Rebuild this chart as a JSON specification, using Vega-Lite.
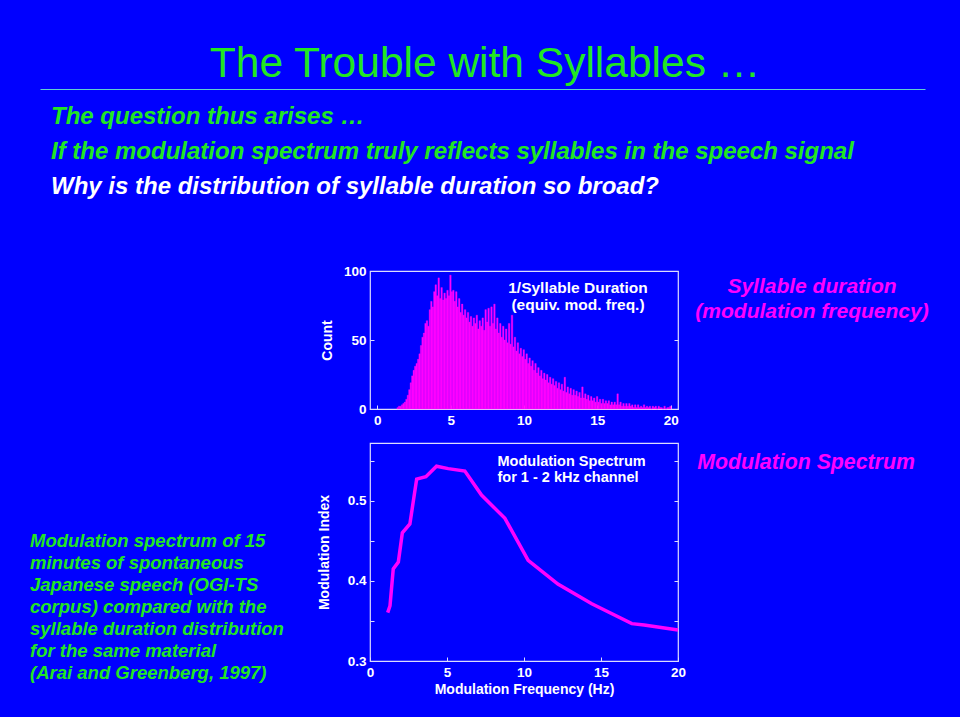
{
  "$schema": "https://vega.github.io/schema/vega-lite/v6.json",
  "background": "#0000ff",
  "padding": {"left": 30, "top": 42, "right": 30, "bottom": 0},
  "title": {"text": "The Trouble with Syllables …", "color": "#22e622", "fontSize": 42.5, "font": "Liberation Sans", "fontWeight": "normal", "anchor": "middle", "offset": 4, "dx": 5},
  "config": {
    "font": "Liberation Sans",
    "view": {"stroke": "#dcdcff", "strokeWidth": 1.2},
    "axis": {"labelColor": "white", "titleColor": "white", "labelFont": "Liberation Sans", "labelFontWeight": "bold", "labelFontSize": 13.5, "titleFont": "Liberation Sans", "titleFontWeight": "bold", "titleFontSize": 14, "grid": false, "domain": false, "tickColor": "#dcdcff", "tickSize": -4, "labelPadding": 8}
  },
  "spacing": 48,
  "vconcat": [
    {
      "width": 900,
      "height": 126,
      "view": {"stroke": null},
      "data": {"values": [
        {"line": 1, "text": "The question thus arises …", "kind": "green"},
        {"line": 2, "text": "If the modulation spectrum truly reflects syllables in the speech signal", "kind": "green"},
        {"line": 3, "text": "Why is the distribution of syllable duration so broad?", "kind": "white"}
      ]},
      "mark": {"type": "text", "align": "left", "baseline": "middle", "fontSize": 24, "fontStyle": "italic", "fontWeight": "bold", "dx": 11},
      "encoding": {
        "x": {"datum": 0, "type": "quantitative", "scale": {"domain": [0, 1], "range": [10, 895]}, "axis": {"orient": "top", "domain": true, "domainColor": "#5fd0d0", "domainWidth": 1, "ticks": false, "labels": false, "title": null}},
        "y": {"field": "line", "type": "ordinal", "scale": {"type": "point", "padding": 0.8}, "axis": null},
        "text": {"field": "text"},
        "color": {"field": "kind", "type": "nominal", "scale": {"domain": ["green", "white"], "range": ["#22e622", "#ffffff"]}, "legend": null}
      }
    },
    {
      "spacing": 0,
      "hconcat": [
        {
          "width": 286,
          "height": 446,
          "view": {"stroke": null},
          "data": {"values": [
            {"line": 1, "text": "Modulation spectrum of 15"},
            {"line": 2, "text": "minutes of spontaneous"},
            {"line": 3, "text": "Japanese speech (OGI-TS"},
            {"line": 4, "text": "corpus) compared with the"},
            {"line": 5, "text": "syllable duration distribution"},
            {"line": 6, "text": "for the same material"},
            {"line": 7, "text": "(Arai and Greenberg, 1997)"}
          ]},
          "mark": {"type": "text", "align": "left", "baseline": "middle", "fontSize": 18.5, "fontStyle": "italic", "fontWeight": "bold", "color": "#22e622"},
          "encoding": {
            "x": {"datum": 0, "type": "quantitative", "scale": {"domain": [0, 1]}, "axis": null},
            "y": {"field": "line", "type": "ordinal", "scale": {"type": "point", "range": [270, 402], "padding": 0}, "axis": null},
            "text": {"field": "text"}
          }
        },
        {
          "spacing": 14,
          "vconcat": [
            {
              "width": 308,
              "height": 138,
              "title": {"text": ["Syllable duration", "(modulation frequency)"], "color": "#ff00ff", "fontSize": 21, "fontStyle": "italic", "fontWeight": "bold", "anchor": "end", "align": "center", "dx": 134, "offset": -58, "lineHeight": 25, "frame": "group"},
              "resolve": {"axis": {"y": "independent"}},
              "layer": [
                {
                  "data": {"values": [
                    {"f":1.3,"n":1},{"f":1.4,"n":2},{"f":1.5,"n":2},{"f":1.6,"n":3},{"f":1.7,"n":4},{"f":1.8,"n":5},{"f":1.9,"n":7},
                    {"f":2.0,"n":10},{"f":2.1,"n":14},{"f":2.2,"n":19},{"f":2.3,"n":24},{"f":2.4,"n":28},{"f":2.5,"n":31},{"f":2.6,"n":33},{"f":2.7,"n":36},{"f":2.8,"n":40},{"f":2.9,"n":46},
                    {"f":3.0,"n":52},{"f":3.1,"n":55},{"f":3.2,"n":62},{"f":3.3,"n":64},{"f":3.4,"n":60},{"f":3.5,"n":72},{"f":3.6,"n":78},{"f":3.7,"n":74},{"f":3.8,"n":85},{"f":3.9,"n":90},
                    {"f":4.0,"n":82},{"f":4.1,"n":95},{"f":4.2,"n":80},{"f":4.3,"n":88},{"f":4.4,"n":79},{"f":4.5,"n":84},{"f":4.6,"n":80},{"f":4.7,"n":86},{"f":4.8,"n":82},{"f":4.9,"n":97},
                    {"f":5.0,"n":85},{"f":5.1,"n":86},{"f":5.2,"n":78},{"f":5.3,"n":85},{"f":5.4,"n":74},{"f":5.5,"n":80},{"f":5.6,"n":70},{"f":5.7,"n":76},{"f":5.8,"n":68},{"f":5.9,"n":72},
                    {"f":6.0,"n":66},{"f":6.1,"n":70},{"f":6.2,"n":63},{"f":6.3,"n":67},{"f":6.4,"n":60},{"f":6.5,"n":66},{"f":6.6,"n":62},{"f":6.7,"n":68},{"f":6.8,"n":58},{"f":6.9,"n":64},
                    {"f":7.0,"n":60},{"f":7.1,"n":66},{"f":7.2,"n":57},{"f":7.3,"n":72},{"f":7.4,"n":63},{"f":7.5,"n":73},{"f":7.6,"n":60},{"f":7.7,"n":74},{"f":7.8,"n":62},{"f":7.9,"n":76},
                    {"f":8.0,"n":58},{"f":8.1,"n":66},{"f":8.2,"n":55},{"f":8.3,"n":62},{"f":8.4,"n":52},{"f":8.5,"n":60},{"f":8.6,"n":50},{"f":8.7,"n":58},{"f":8.8,"n":48},{"f":8.9,"n":62},
                    {"f":9.0,"n":47},{"f":9.1,"n":68},{"f":9.2,"n":45},{"f":9.3,"n":52},{"f":9.4,"n":42},{"f":9.5,"n":48},{"f":9.6,"n":40},{"f":9.7,"n":44},{"f":9.8,"n":38},{"f":9.9,"n":43},
                    {"f":10.0,"n":36},{"f":10.1,"n":40},{"f":10.2,"n":33},{"f":10.3,"n":37},{"f":10.4,"n":31},{"f":10.5,"n":35},{"f":10.6,"n":28},{"f":10.7,"n":33},{"f":10.8,"n":26},{"f":10.9,"n":30},
                    {"f":11.0,"n":24},{"f":11.1,"n":28},{"f":11.2,"n":22},{"f":11.3,"n":26},{"f":11.4,"n":21},{"f":11.5,"n":25},{"f":11.6,"n":19},{"f":11.7,"n":23},{"f":11.8,"n":18},{"f":11.9,"n":22},
                    {"f":12.0,"n":17},{"f":12.1,"n":20},{"f":12.2,"n":15},{"f":12.3,"n":19},{"f":12.4,"n":14},{"f":12.5,"n":18},{"f":12.6,"n":13},{"f":12.7,"n":23},{"f":12.8,"n":12},{"f":12.9,"n":16},
                    {"f":13.0,"n":11},{"f":13.1,"n":15},{"f":13.2,"n":10},{"f":13.3,"n":14},{"f":13.4,"n":10},{"f":13.5,"n":13},{"f":13.6,"n":9},{"f":13.7,"n":12},{"f":13.8,"n":8},{"f":13.9,"n":16},
                    {"f":14.0,"n":8},{"f":14.1,"n":11},{"f":14.2,"n":7},{"f":14.3,"n":10},{"f":14.4,"n":6},{"f":14.5,"n":9},{"f":14.6,"n":6},{"f":14.7,"n":8},{"f":14.8,"n":5},{"f":14.9,"n":9},
                    {"f":15.0,"n":5},{"f":15.1,"n":7},{"f":15.2,"n":4},{"f":15.3,"n":7},{"f":15.4,"n":4},{"f":15.5,"n":6},{"f":15.6,"n":4},{"f":15.7,"n":6},{"f":15.8,"n":3},{"f":15.9,"n":5},
                    {"f":16.0,"n":3},{"f":16.1,"n":5},{"f":16.2,"n":3},{"f":16.3,"n":11},{"f":16.4,"n":3},{"f":16.5,"n":5},{"f":16.6,"n":2},{"f":16.7,"n":4},{"f":16.8,"n":2},{"f":16.9,"n":4},
                    {"f":17.0,"n":2},{"f":17.1,"n":4},{"f":17.2,"n":2},{"f":17.3,"n":3},{"f":17.4,"n":1},{"f":17.5,"n":3},{"f":17.6,"n":1},{"f":17.7,"n":3},{"f":17.8,"n":1},{"f":17.9,"n":2},
                    {"f":18.0,"n":1},{"f":18.1,"n":3},{"f":18.2,"n":1},{"f":18.3,"n":2},{"f":18.4,"n":1},{"f":18.5,"n":2},{"f":18.6,"n":0},{"f":18.7,"n":2},{"f":18.8,"n":1},{"f":18.9,"n":2},
                    {"f":19.0,"n":0},{"f":19.1,"n":2},{"f":19.2,"n":1},{"f":19.3,"n":1},{"f":19.4,"n":0},{"f":19.5,"n":2},{"f":19.6,"n":0},{"f":19.7,"n":1},{"f":19.8,"n":1},{"f":19.9,"n":2}
                  ]},
                  "mark": {"type": "bar", "color": "#ff00ff", "binSpacing": 0, "stroke": "#ff00ff", "strokeWidth": 0.35},
                  "encoding": {
                    "x": {"field": "f", "type": "quantitative", "bin": {"binned": true, "step": 0.1}, "scale": {"domain": [-0.5, 20.5], "nice": false, "zero": false}, "axis": {"values": [0, 5, 10, 15, 20], "format": "d", "title": null, "labelFlush": false}},
                    "y": {"field": "n", "type": "quantitative", "scale": {"domain": [0, 100], "nice": false}, "axis": {"values": [0, 50, 100], "title": "Count", "titlePadding": 9}}
                  }
                },
                {
                  "data": {"values": [{"label": "1/Syllable Duration\n(equiv. mod. freq.)"}]},
                  "mark": {"type": "text", "lineBreak": "\n", "color": "white", "fontSize": 15.5, "fontWeight": "bold", "align": "center", "baseline": "top", "lineHeight": 17},
                  "encoding": {
                    "x": {"datum": 13.68},
                    "y": {"datum": 92.5, "axis": {"orient": "right", "values": [0, 50, 100], "labels": false, "title": null}},
                    "text": {"field": "label"}
                  }
                }
              ]
            },
            {
              "width": 308,
              "height": 218,
              "title": {"text": "Modulation Spectrum", "color": "#ff00ff", "fontSize": 21.3, "fontStyle": "italic", "fontWeight": "bold", "anchor": "end", "align": "center", "dx": 128, "offset": -30, "frame": "group"},
              "resolve": {"axis": {"y": "independent"}},
              "layer": [
                {
                  "data": {"values": [
                    {"freq": 1.15, "index": 0.3603},
                    {"freq": 1.30, "index": 0.369},
                    {"freq": 1.51, "index": 0.415},
                    {"freq": 1.84, "index": 0.4235},
                    {"freq": 2.10, "index": 0.460},
                    {"freq": 2.59, "index": 0.471},
                    {"freq": 3.03, "index": 0.527},
                    {"freq": 3.63, "index": 0.530},
                    {"freq": 4.32, "index": 0.543},
                    {"freq": 5.08, "index": 0.540},
                    {"freq": 6.16, "index": 0.537},
                    {"freq": 7.24, "index": 0.507},
                    {"freq": 8.76, "index": 0.478},
                    {"freq": 10.27, "index": 0.4256},
                    {"freq": 12.2, "index": 0.396},
                    {"freq": 14.4, "index": 0.3715},
                    {"freq": 17.0, "index": 0.3466},
                    {"freq": 17.8, "index": 0.345},
                    {"freq": 20.0, "index": 0.3387}
                  ]},
                  "mark": {"type": "line", "color": "#ff00ff", "strokeWidth": 3.5},
                  "encoding": {
                    "x": {"field": "freq", "type": "quantitative", "scale": {"domain": [0, 20], "nice": false}, "axis": {"values": [0, 5, 10, 15, 20], "title": "Modulation Frequency (Hz)", "labelFlush": false}},
                    "y": {"field": "index", "type": "quantitative", "scale": {"domain": [0.3, 0.572], "nice": false, "zero": false}, "axis": {"values": [0.3, 0.35, 0.4, 0.45, 0.5, 0.55], "labelExpr": "round(datum.value*100) % 10 == 0 ? format(datum.value, '.1f') : ''", "title": "Modulation Index", "titlePadding": 16}}
                  }
                },
                {
                  "data": {"values": [{"label": "Modulation Spectrum\nfor 1 - 2 kHz channel"}]},
                  "mark": {"type": "text", "lineBreak": "\n", "color": "white", "fontSize": 14.5, "fontWeight": "bold", "align": "left", "baseline": "top", "lineHeight": 15.5},
                  "encoding": {
                    "x": {"datum": 8.28},
                    "y": {"datum": 0.5565, "axis": {"orient": "right", "values": [0.35, 0.4, 0.45, 0.5, 0.55], "labels": false, "title": null}},
                    "text": {"field": "label"}
                  }
                }
              ]
            }
          ]
        }
      ]
    }
  ]
}
